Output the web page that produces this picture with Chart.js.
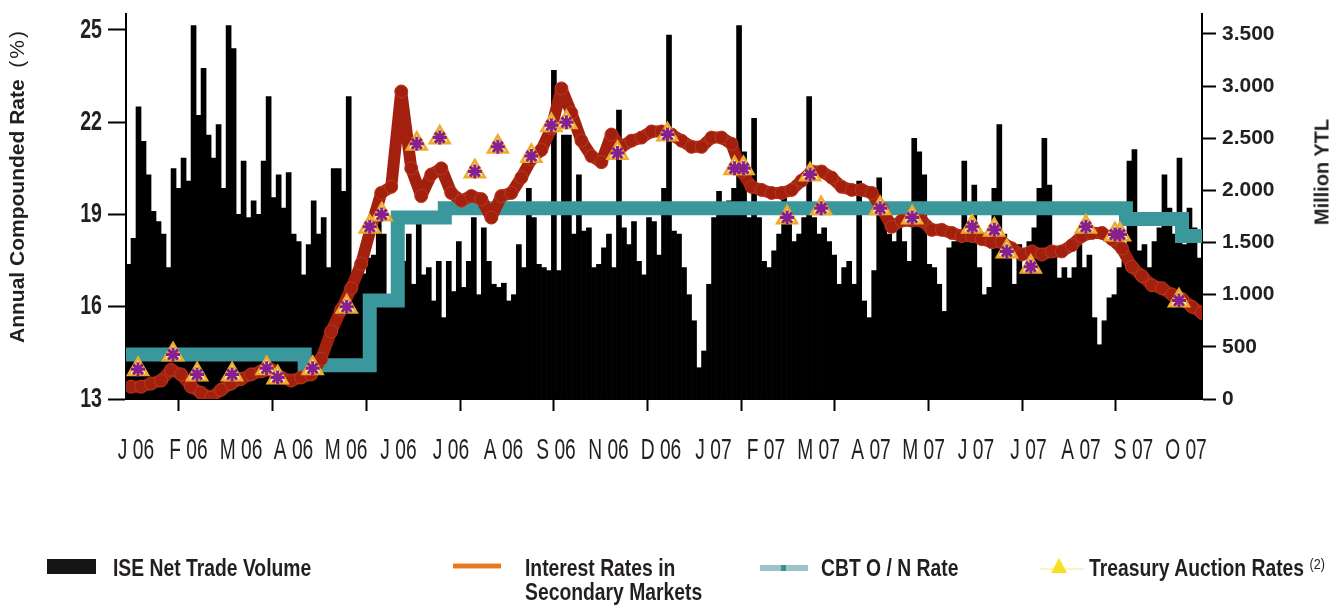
<!DOCTYPE html>
<html>
<head>
<meta charset="utf-8">
<script src="https://cdn.jsdelivr.net/npm/chart.js@4.4.1/dist/chart.umd.min.js"></script>
<style>
  body { margin: 0; background: #fff; }
  #wrap { position: relative; width: 1343px; height: 605px; color: #231f20;
          font-family: "Liberation Sans", Arial, sans-serif; }
  #chart { position: absolute; left: 0; top: 0; }
  .vtitle { position: absolute; transform: translate(-50%, -50%) rotate(-90deg); white-space: nowrap;
            font-weight: bold; color: #231f20; }
  .lg { position: absolute; font-weight: bold; font-size: 23px; line-height: 24px; white-space: nowrap;
        transform: scaleX(0.84); transform-origin: 0 50%; }
  .lg sup { font-weight: normal; font-size: 15px; line-height: 0; vertical-align: 7px; }
</style>
</head>
<body>
<div id="wrap">
  <canvas id="chart" width="1343" height="605"></canvas>
  <div class="vtitle" style="left:17px; top:186px; font-size:21px;">Annual Compounded Rate &nbsp;<span style="font-weight:normal; letter-spacing:2px;">(%)</span></div>
  <div class="vtitle" style="left:1322px; top:172px; font-size:20px;">Million YTL</div>

  <div style="position:absolute; left:47px; top:559px; width:49px; height:15px; background:#151515;"></div>
  <div class="lg" style="left:113px; top:556px;">ISE Net Trade Volume</div>

  <div style="position:absolute; left:453px; top:564px; width:48px; height:4px; background:#e8771e; box-shadow:0 -1px 0 #f6c49a, 0 1px 0 #f6c49a;"></div>
  <div class="lg" style="left:525px; top:556px;">Interest Rates in<br>Secondary Markets</div>

  <div style="position:absolute; left:760px; top:565px; width:48px; height:6px; background:#9cc3c5;"></div>
  <div style="position:absolute; left:781px; top:565px; width:5px; height:6px; background:#3d8e92;"></div>
  <div class="lg" style="left:821px; top:556px;">CBT O / N Rate</div>

  <div style="position:absolute; left:1040px; top:568px; width:44px; height:2px; background:#fbf3c2;"></div>
  <div style="position:absolute; left:1051px; top:558px; width:16px; height:15px; background:#f5e11c; clip-path:polygon(50% 0, 100% 100%, 0 100%);"></div>
  <div class="lg" style="left:1089px; top:556px;">Treasury Auction Rates <sup>(2)</sup></div>
</div>

<script>
// ---------- data ----------
// ISE net trade volume (million YTL), one bar per trading-day slot, Jan 06 - Oct 07
const volume = [
  1290, 1540, 2800, 2470, 2150, 1800, 1700, 1580, 1260, 2210,
  2020, 2310, 2090, 3580, 2720, 3170, 2530, 2310, 2630, 2020,
  3580, 3360, 1770, 2280, 1740, 1900, 1770, 2280, 2900, 1930,
  2150, 1830, 2170, 1580, 1510, 1190, 1480, 1900, 1580, 1740,
  1260, 2210, 2210, 1990, 2900, 1100, 1150, 1200, 1350, 1380,
  1740, 1580, 970, 940, 1610, 1320, 1580, 1100, 1770, 1190,
  1260, 940, 1320, 780, 1320, 1030, 1510, 1070, 1320, 1740,
  1000, 1640, 1320, 1100, 1070, 1110, 940, 1000, 1480, 1260,
  2020, 1740, 1290, 1260, 1230, 3150, 1230, 2530, 2530, 1580,
  2150, 1610, 1640, 1260, 1290, 1450, 1580, 1260, 2770, 1640,
  1480, 1700, 1320, 1190, 1740, 1700, 1380, 2020, 3490, 1610,
  1580, 1260, 1000, 750, 300, 460, 1100, 1740, 1990, 1770,
  1900, 2020, 3580, 2370, 1740, 2690, 1740, 1320, 1260, 1420,
  1580, 2020, 1740, 1510, 1580, 1740, 2900, 1740, 1580, 1640,
  1510, 1380, 1100, 1260, 1320, 1100, 2090, 940, 780, 1230,
  2120, 1700, 1580, 1510, 1640, 1510, 1320, 2500, 2370, 2150,
  1290, 1260, 1100, 840, 1450, 1510, 1580, 2280, 1580, 2050,
  1260, 1000, 1070, 2020, 2630, 1580, 1380, 1100, 1480, 1260,
  1510, 1640, 2020, 2500, 2050, 1380, 1160, 1260, 1160, 1260,
  1480, 1260, 1380, 780, 520, 750, 970, 1000, 1260, 1320,
  2280, 2390, 1420, 1480, 1260, 1510, 1640, 2150, 1830, 1580,
  2310, 1480, 1830, 1640, 1350
];
const DAYS = volume.length;

// interest rates in secondary markets (%), every second slot
const secondaryRate = [
  13.4, 13.4, 13.5, 13.6, 13.95, 13.8, 13.4, 13.2, 13.05, 13.3,
  13.5, 13.65, 13.8, 13.9, 13.95, 13.7, 13.6, 13.7, 13.8, 14.3,
  15.2, 15.9, 16.6, 17.4, 18.6, 19.7, 19.9, 23.0, 20.5, 19.6,
  20.3, 20.5, 19.7, 19.45, 19.6, 19.5, 18.9, 19.6, 19.7, 20.2,
  20.8, 21.1, 21.8, 23.1, 22.3, 21.4, 20.9, 20.7, 21.6, 21.2,
  21.4, 21.5, 21.7, 21.7, 21.6, 21.4, 21.2, 21.2, 21.5, 21.5,
  21.3, 20.4, 19.9, 19.8, 19.7, 19.7, 19.8, 20.1, 20.4, 20.4,
  20.2, 19.9, 19.8, 19.8, 19.7, 19.2, 18.6, 18.8, 18.8, 18.8,
  18.5, 18.5, 18.4, 18.3, 18.3, 18.2, 18.1, 18.1, 17.9, 17.7,
  17.8, 17.7, 17.8, 17.8, 18.0, 18.3, 18.4, 18.4, 18.2, 17.9,
  17.3, 17.0, 16.7, 16.6, 16.4, 16.25, 16.0, 15.8
];

// CBT overnight rate (%): slot where each new level starts
const cbtChangeDay = [0, 35.7, 48.7, 54.3, 63.7, 199.8, 211.0, 215];
const cbtRate      = [14.45, 14.1, 16.2, 18.9, 19.2, 18.85, 18.3, 18.3];

// treasury auction rates (%)
const auctionDay = [2.4, 9.4, 14.2, 21.2, 28.1, 30.3, 37.3, 44.1, 48.7, 51.1,
  58.1, 62.7, 69.7, 74.3, 81.0, 85.0, 88.0, 98.2, 108.2, 121.6,
  123.4, 132.1, 136.7, 138.9, 150.7, 157.1, 169.1, 173.5, 176.0, 180.8,
  191.8, 197.6, 198.6, 210.4];
const auctionRate = [13.97, 14.45, 13.8, 13.8, 14.0, 13.7, 14.0, 16.0, 18.6, 19.0,
  21.3, 21.5, 20.4, 21.2, 20.9, 21.9, 22.0, 21.0, 21.6, 20.5,
  20.5, 18.9, 20.3, 19.2, 19.2, 18.9, 18.6, 18.5, 17.8, 17.3,
  18.6, 18.35, 18.35, 16.2];

const monthLabels = ['J 06', 'F 06', 'M 06', 'A 06', 'M 06', 'J 06', 'J 06', 'A 06', 'S 06', 'N 06', 'D 06',
  'J 07', 'F 07', 'M 07', 'A 07', 'M 07', 'J 07', 'J 07', 'A 07', 'S 07', 'O 07'];
const rateTicks = [13, 16, 19, 22, 25];
const volumeTicks = [0, 500, 1000, 1500, 2000, 2500, 3000, 3500];

// ---------- chart ----------
const SANS = '"Liberation Sans", Arial, sans-serif';
const INK = '#231f20';

// no condensed Helvetica here: squeeze canvas text sideways, per font size
const squeeze = { 28: 0.7, 30: 0.64 };
const condensedText = {
  id: 'condensedText',
  beforeDraw(chart) {
    const ctx = chart.ctx;
    const plain = ctx.fillText;
    chart.$plainFill = plain;
    ctx.fillText = function (text, x, y) {
      const m = /(\d+(?:\.\d+)?)px/.exec(this.font);
      const k = (m && squeeze[Math.round(parseFloat(m[1]))]) || 1;
      this.save();
      this.scale(k, 1);
      plain.call(this, text, x / k, y);
      this.restore();
    };
  },
  afterDraw(chart) {
    chart.ctx.fillText = chart.$plainFill;
  }
};

// y axes: fixed widths, and no extra room reserved for half a label above / below
const fitY = width => s => { s.width = width; s.paddingTop = 0; s.paddingBottom = 0; };

const auctionPoints = auctionDay.map((d, i) => ({ x: d, y: auctionRate[i] }));

new Chart(document.getElementById('chart'), {
  type: 'bar',
  data: {
    datasets: [
      {
        type: 'line', label: 'auction-star', data: auctionPoints,
        xAxisID: 'x', yAxisID: 'yL', showLine: false,
        pointStyle: 'star', pointRadius: 7, pointBorderColor: '#86208c', pointBorderWidth: 3,
        order: 1
      },
      {
        type: 'line', label: 'Treasury Auction Rates', data: auctionPoints,
        xAxisID: 'x', yAxisID: 'yL', showLine: false,
        pointStyle: 'triangle', pointRadius: 11.5,
        pointBackgroundColor: '#fbeeb4', pointBorderColor: '#eeaa2a', pointBorderWidth: 2.5,
        order: 2
      },
      {
        type: 'line', label: 'Interest Rates in Secondary Markets',
        data: secondaryRate.map((v, k) => ({ x: 2 * k + 1, y: v })),
        xAxisID: 'x', yAxisID: 'yL',
        borderColor: '#a3200f', borderWidth: 12, borderJoinStyle: 'round', borderCapStyle: 'round',
        pointRadius: 6.5, pointBackgroundColor: '#a3200f', pointBorderColor: '#b83a1e', pointBorderWidth: 1,
        order: 3
      },
      {
        type: 'line', label: 'CBT O / N Rate',
        data: cbtChangeDay.map((d, i) => ({ x: d, y: cbtRate[i] })),
        xAxisID: 'x', yAxisID: 'yL', stepped: 'before',
        borderColor: '#3a989c', borderWidth: 14, pointRadius: 0,
        order: 4
      },
      {
        type: 'bar', label: 'ISE Net Trade Volume',
        data: volume.map((v, i) => ({ x: i + 0.5, y: v })),
        xAxisID: 'x', yAxisID: 'yR',
        backgroundColor: '#000', borderWidth: 0, barPercentage: 1, categoryPercentage: 1,
        order: 5
      }
    ]
  },
  options: {
    responsive: false,
    animation: false,
    layout: { padding: { top: 12, bottom: 134, left: 0, right: 0 } },
    plugins: { legend: { display: false }, tooltip: { enabled: false } },
    scales: {
      x: {
        type: 'linear', position: 'bottom', min: 0, max: DAYS, bounds: 'data', offset: false,
        grid: { drawOnChartArea: false, offset: false, tickLength: 12, tickWidth: 2, tickColor: '#000' },
        border: { color: '#000', width: 2 },
        ticks: { display: false },
        afterBuildTicks: s => { s.ticks = Array.from({ length: 11 }, (_, k) => ({ value: 10.58 + k * 18.72 })); },
        afterFit: s => { s.height = 12; }
      },
      xLab: {
        type: 'linear', position: 'bottom', min: 0, max: DAYS, bounds: 'data', offset: false,
        grid: { display: false, drawTicks: false },
        border: { display: false },
        ticks: {
          autoSkip: false, maxRotation: 0, minRotation: 0, padding: 22, color: INK,
          font: { family: SANS, size: 30 },
          callback: (v, i) => monthLabels[i]
        },
        afterBuildTicks: s => { s.ticks = monthLabels.map((_, i) => ({ value: 2 + i * 10.49 })); },
        afterFit: s => { s.height = 60; }
      },
      yL: {
        type: 'linear', position: 'left', min: 13, max: 25.52, bounds: 'data',
        grid: { drawOnChartArea: false, tickLength: 18, tickWidth: 2, tickColor: '#000' },
        border: { color: '#000', width: 2 },
        ticks: { padding: 6, color: INK, font: { family: SANS, size: 28, weight: 'bold' } },
        afterBuildTicks: s => { s.ticks = rateTicks.map(v => ({ value: v })); },
        afterFit: fitY(126)
      },
      yR: {
        type: 'linear', position: 'right', min: 0, max: 3691, bounds: 'data',
        grid: { drawOnChartArea: false, tickLength: 14, tickWidth: 2, tickColor: '#000' },
        border: { color: '#000', width: 2 },
        ticks: {
          padding: 6, color: INK, font: { family: SANS, size: 21, weight: 'bold' },
          callback: v => v >= 1000 ? (v / 1000).toFixed(3) : String(v)
        },
        afterBuildTicks: s => { s.ticks = volumeTicks.map(v => ({ value: v })); },
        afterFit: fitY(141)
      }
    }
  },
  plugins: [condensedText]
});
</script>
</body>
</html>
